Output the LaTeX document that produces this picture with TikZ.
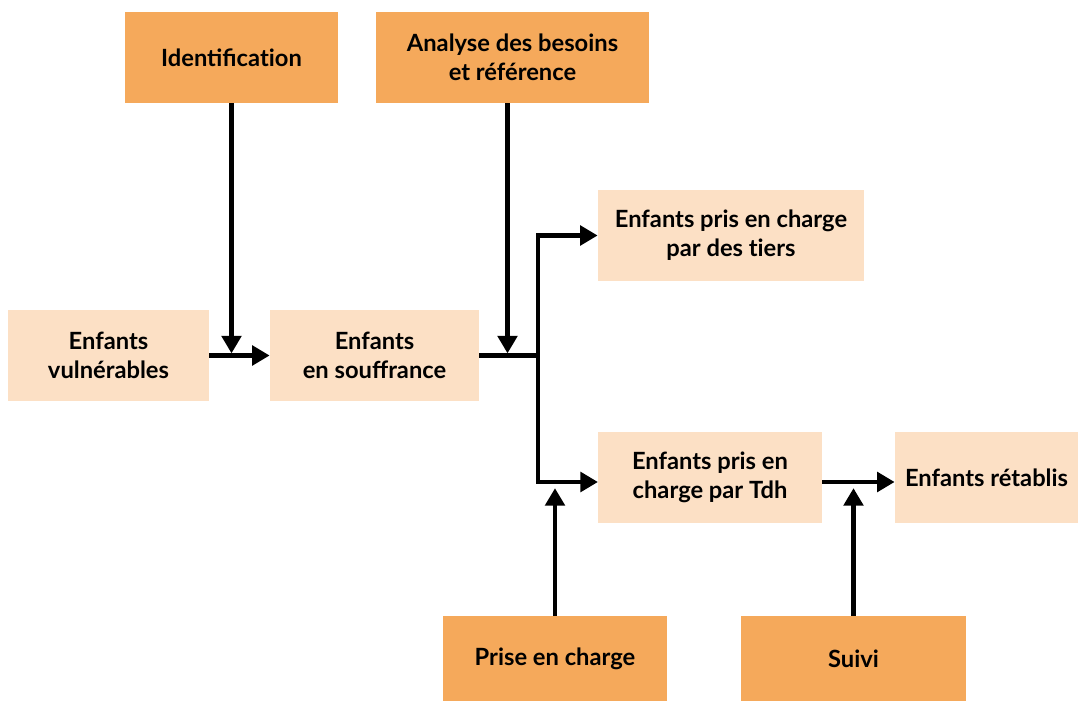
\documentclass[tikz,border=0pt]{standalone}
\usepackage{fontspec}
\setmainfont{Lato}
\usepackage{tikz}
\usetikzlibrary{arrows.meta}
\definecolor{stepdark}{HTML}{F5A95B}
\definecolor{kidlight}{HTML}{FCE0C5}
\tikzset{
  stepbox/.style={fill=stepdark, align=center, inner sep=0pt,
    font=\fontsize{13.5}{16.5}\selectfont\bfseries},
  kidbox/.style={fill=kidlight, align=center, inner sep=0pt, minimum height=1.82cm,
    font=\fontsize{13.5}{16.5}\selectfont\bfseries},
  arr/.style={line width=2.5pt, -{Triangle[length=10pt,width=11pt]}},
  plain/.style={line width=2.5pt}
}
\begin{document}
\begin{tikzpicture}[x=0.02cm,y=-0.02cm]
  \useasboundingbox (0,0) rectangle (1078,702);
  % process steps
  \node[stepbox, minimum width=4.26cm, minimum height=1.82cm] (ident) at (231.5,57.5) {Identificat\kern0pt ion};
  \node[stepbox, minimum width=5.46cm, minimum height=1.82cm] (analyse) at (512.5,57.5) {Analyse des besoins\\et référence};
  \node[stepbox, minimum width=4.48cm, minimum height=1.7cm] (prise) at (555,658.5) {Prise en charge};
  \node[stepbox, minimum width=4.5cm, minimum height=1.7cm] (suivi) at (853.5,658.5) {Suivi};
  % children states
  \node[kidbox, minimum width=4.02cm] (vuln) at (108.5,355.5) {Enfants\\vulnérables};
  \node[kidbox, minimum width=4.18cm] (souff) at (374.5,355.5) {Enfants\\en souffrance};
  \node[kidbox, minimum width=5.32cm] (tiers) at (731,235.5) {Enfants pris en charge\\par des t\kern0pt iers};
  \node[kidbox, minimum width=4.48cm] (tdh) at (710,477.5) {Enfants pris en\\charge par Tdh};
  \node[kidbox, minimum width=3.66cm] (retab) at (986.5,477.5) {Enfants rétablis};
  \coordinate (split) at (538,355.5);
  \coordinate (tdhin) at (598,482);
  \coordinate (tdhout) at (822,482);

  \draw[arr] (vuln) -- (souff);
  \draw[arr, shorten >=1.2pt] (ident) -- (ident |- vuln.east);
  \draw[arr, shorten >=1.2pt] ([xshift=-0.1cm]analyse.south) -- ([xshift=-0.1cm]analyse.south |- souff.east);
  \draw[plain] (souff.east) -- (split);
  \draw[arr] (split) |- (tiers.west);
  \draw[arr] (split) |- (tdhin);
  \draw[arr] (tdhout) -- (tdhout -| retab.west);
  \draw[arr, shorten >=3.5pt] (prise) -- (prise |- tdhin);
  \draw[arr, shorten >=3.5pt] (suivi) -- (suivi |- tdhout);
\end{tikzpicture}
\end{document}
